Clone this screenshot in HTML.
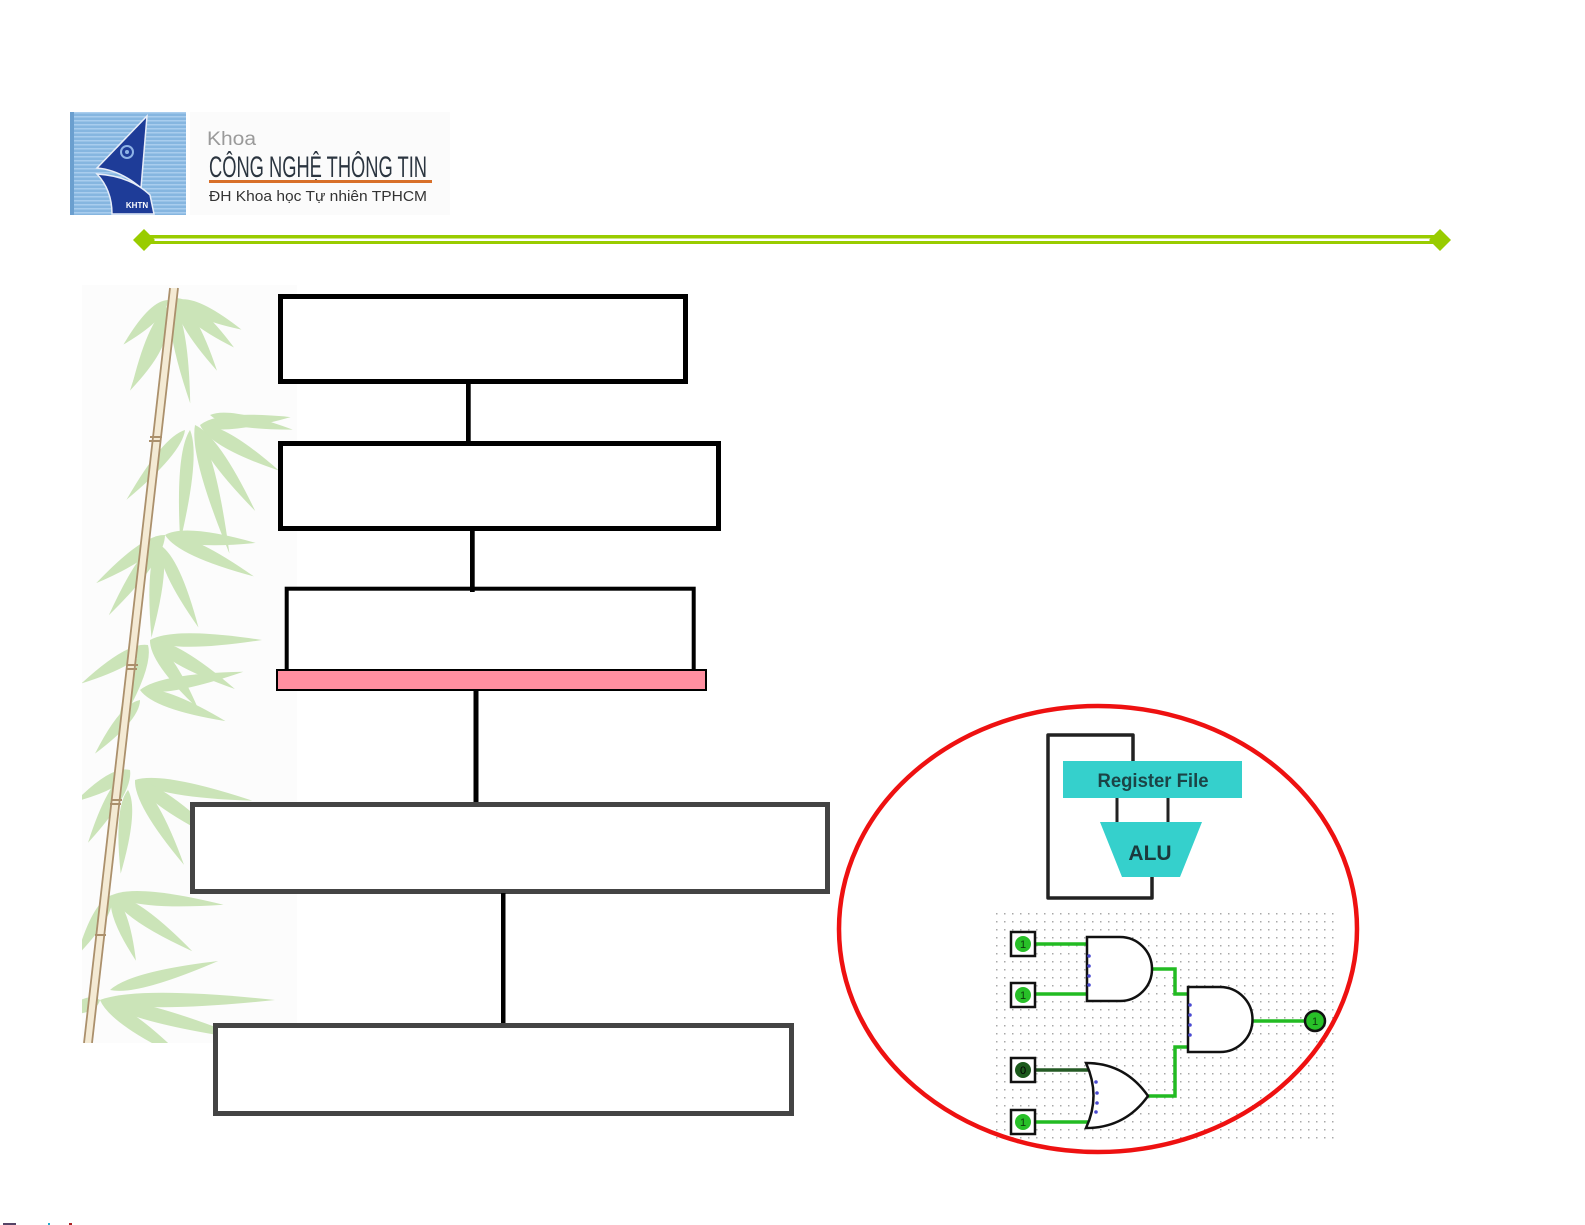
<!DOCTYPE html>
<html>
<head>
<meta charset="utf-8">
<style>
  html,body{margin:0;padding:0;background:#fff;}
  svg{display:block;}
</style>
</head>
<body>
<svg width="1585" height="1225" viewBox="0 0 1585 1225" xmlns="http://www.w3.org/2000/svg">
  <defs>
    <pattern id="stripes" x="0" y="0" width="4" height="4" patternUnits="userSpaceOnUse">
      <rect width="4" height="4" fill="#86b6e0"/>
      <rect width="4" height="1.5" fill="#a9cdee"/>
    </pattern>
    <pattern id="dots" x="993" y="910" width="8" height="8" patternUnits="userSpaceOnUse">
      <rect x="3" y="3" width="1.5" height="1.5" fill="#a8a8a8"/>
    </pattern>
    <clipPath id="bambooClip">
      <rect x="82" y="285" width="215" height="758"/>
    </clipPath>
    <path id="leaf" d="M0,0 Q15,-8 70,0 Q15,8 0,0 Z"/>
  </defs>

  <!-- Logo -->
  <rect x="190" y="112" width="260" height="103" fill="#fbfbfb"/>
  <rect x="70" y="112" width="116" height="103" fill="url(#stripes)"/>
  <rect x="70" y="112" width="4" height="103" fill="#6b9fcf"/>
  <!-- sail -->
  <path d="M147,116 L141,188 Q120,170 97,168 Z" fill="#1e3c98" stroke="#e8eef8" stroke-width="1.5"/>
  <path d="M97,174 Q130,176 150,195 L154,214 L112,214 Q112,190 97,174 Z" fill="#1e3c98" stroke="#e8eef8" stroke-width="1.5"/>
  <circle cx="127" cy="152" r="6" fill="none" stroke="#8fb3e6" stroke-width="2"/>
  <circle cx="127" cy="152" r="2" fill="#8fb3e6"/>
  <text x="137" y="208" font-family="Liberation Sans, sans-serif" font-size="8" font-weight="bold" fill="#ffffff" text-anchor="middle">KHTN</text>

  <text x="207" y="145" font-family="Liberation Sans, sans-serif" font-size="19" fill="#9a9a9a" textLength="49" lengthAdjust="spacingAndGlyphs">Khoa</text>
  <text x="209" y="177" font-family="Liberation Sans, sans-serif" font-size="30" fill="#2b3540" textLength="218" lengthAdjust="spacingAndGlyphs">CÔNG NGHỆ THÔNG TIN</text>
  <rect x="209" y="180" width="223" height="3" fill="#d8702a"/>
  <text x="209" y="201" font-family="Liberation Sans, sans-serif" font-size="15" fill="#333333" textLength="218" lengthAdjust="spacingAndGlyphs">ĐH Khoa học Tự nhiên TPHCM</text>

  <!-- green separator -->
  <rect x="150" y="235" width="1285" height="3.5" fill="#99cc00"/>
  <rect x="150" y="241" width="1285" height="3" fill="#99cc00"/>
  <polygon points="144,229 155,240 144,251 133,240" fill="#99cc00"/>
  <polygon points="1440,229 1451,240 1440,251 1429,240" fill="#99cc00"/>

  <!-- Bamboo -->
  <g clip-path="url(#bambooClip)">
    <rect x="82" y="285" width="215" height="758" fill="#fcfcfc"/>
    <g fill="#c3e0ad" opacity="0.85">
      <!-- cluster 1 -->
      <use href="#leaf" transform="translate(175,298) rotate(40) scale(1.1,1.8)"/>
      <use href="#leaf" transform="translate(175,298) rotate(60) scale(1.2,1.7)"/>
      <use href="#leaf" transform="translate(178,300) rotate(25) scale(1.0,1.6)"/>
      <use href="#leaf" transform="translate(170,305) rotate(115) scale(1.3,1.8)"/>
      <use href="#leaf" transform="translate(168,300) rotate(135) scale(0.9,1.6)"/>
      <use href="#leaf" transform="translate(172,300) rotate(80) scale(1.5,1.6)"/>
      <use href="#leaf" transform="translate(165,330) rotate(120) scale(1.0,1.6)"/>
      <!-- cluster 2 -->
      <use href="#leaf" transform="translate(200,425) rotate(-5) scale(1.3,1.7)"/>
      <use href="#leaf" transform="translate(200,425) rotate(30) scale(1.3,1.8)"/>
      <use href="#leaf" transform="translate(195,425) rotate(55) scale(1.5,1.7)"/>
      <use href="#leaf" transform="translate(195,425) rotate(75) scale(1.9,1.7)"/>
      <use href="#leaf" transform="translate(190,430) rotate(95) scale(1.6,1.6)"/>
      <use href="#leaf" transform="translate(185,430) rotate(130) scale(1.3,1.6)"/>
      <use href="#leaf" transform="translate(210,415) rotate(10) scale(1.2,1.5)"/>
      <!-- cluster 3 -->
      <use href="#leaf" transform="translate(165,535) rotate(125) scale(1.4,1.8)"/>
      <use href="#leaf" transform="translate(165,535) rotate(145) scale(1.2,1.7)"/>
      <use href="#leaf" transform="translate(165,535) rotate(5) scale(1.3,1.7)"/>
      <use href="#leaf" transform="translate(165,535) rotate(25) scale(1.4,1.7)"/>
      <use href="#leaf" transform="translate(160,540) rotate(95) scale(1.4,1.7)"/>
      <use href="#leaf" transform="translate(160,545) rotate(65) scale(1.3,1.6)"/>
      <!-- cluster 4 -->
      <use href="#leaf" transform="translate(150,640) rotate(0) scale(1.6,1.7)"/>
      <use href="#leaf" transform="translate(150,640) rotate(30) scale(1.4,1.8)"/>
      <use href="#leaf" transform="translate(150,640) rotate(55) scale(1.2,1.7)"/>
      <use href="#leaf" transform="translate(148,645) rotate(150) scale(1.1,1.7)"/>
      <use href="#leaf" transform="translate(148,645) rotate(110) scale(1.3,1.7)"/>
      <use href="#leaf" transform="translate(140,690) rotate(-10) scale(1.5,1.6)"/>
      <use href="#leaf" transform="translate(140,690) rotate(20) scale(1.3,1.7)"/>
      <use href="#leaf" transform="translate(140,700) rotate(130) scale(1.0,1.6)"/>
      <!-- cluster 5 -->
      <use href="#leaf" transform="translate(130,770) rotate(120) scale(1.2,1.8)"/>
      <use href="#leaf" transform="translate(130,770) rotate(150) scale(0.9,1.7)"/>
      <use href="#leaf" transform="translate(135,780) rotate(10) scale(1.7,1.7)"/>
      <use href="#leaf" transform="translate(135,780) rotate(35) scale(1.6,1.8)"/>
      <use href="#leaf" transform="translate(135,780) rotate(60) scale(1.4,1.7)"/>
      <use href="#leaf" transform="translate(128,790) rotate(95) scale(1.2,1.6)"/>
      <!-- cluster 6 -->
      <use href="#leaf" transform="translate(112,895) rotate(5) scale(1.6,1.7)"/>
      <use href="#leaf" transform="translate(112,895) rotate(35) scale(1.4,1.8)"/>
      <use href="#leaf" transform="translate(112,895) rotate(120) scale(1.0,1.7)"/>
      <use href="#leaf" transform="translate(112,895) rotate(70) scale(1.0,1.6)"/>
      <!-- cluster 7 -->
      <use href="#leaf" transform="translate(100,1000) rotate(0) scale(2.5,1.8)"/>
      <use href="#leaf" transform="translate(100,1000) rotate(15) scale(2.2,1.8)"/>
      <use href="#leaf" transform="translate(100,1000) rotate(35) scale(1.5,1.8)"/>
      <use href="#leaf" transform="translate(100,1000) rotate(160) scale(0.6,1.7)"/>
      <use href="#leaf" transform="translate(110,990) rotate(-15) scale(1.6,1.6)"/>
    </g>
    <!-- stalk -->
    <polygon points="170,288 178,288 92,1043 84,1043" fill="#f4ead4"/>
    <line x1="170" y1="288" x2="84" y2="1043" stroke="#ab906c" stroke-width="1.8"/>
    <line x1="178" y1="288" x2="92" y2="1043" stroke="#ab906c" stroke-width="1.8"/>
    <g stroke="#ab906c" stroke-width="2">
      <line x1="150" y1="437" x2="162" y2="437"/>
      <line x1="149" y1="441" x2="161" y2="441"/>
      <line x1="127" y1="665" x2="138" y2="665"/>
      <line x1="126" y1="669" x2="137" y2="669"/>
      <line x1="111" y1="800" x2="122" y2="800"/>
      <line x1="110" y1="804" x2="121" y2="804"/>
      <line x1="95" y1="935" x2="106" y2="935"/>
    </g>
  </g>

  <!-- Flow boxes -->
  <g fill="#ffffff" stroke="#000000">
    <rect x="280.5" y="296.5" width="405" height="85" stroke-width="5"/>
    <rect x="280.5" y="443.5" width="438" height="85" stroke-width="5"/>
    <rect x="286.7" y="588.7" width="407" height="90" stroke-width="4"/>
  </g>
  <rect x="466" y="383" width="4.7" height="59" fill="#000"/>
  <rect x="470" y="530" width="4.7" height="62" fill="#000"/>
  <rect x="277" y="670" width="429" height="20" fill="#ff8fa0" stroke="#000" stroke-width="2"/>
  <rect x="473.5" y="690" width="5" height="114" fill="#000"/>

  <rect x="192.5" y="804.5" width="635" height="87" fill="#fff" stroke="#444" stroke-width="5"/>
  <rect x="501" y="893" width="4.5" height="132" fill="#000"/>
  <rect x="215.5" y="1025.5" width="576" height="88" fill="#fff" stroke="#444" stroke-width="5"/>

  <!-- Circuit illustration -->
  <rect x="993" y="910" width="345" height="235" fill="url(#dots)"/>

  <!-- Register/ALU loop -->
  <path d="M1133,761 L1133,735 L1048,735 L1048,898 L1152,898 L1152,877" fill="none" stroke="#222" stroke-width="3.5" stroke-linejoin="round"/>
  <line x1="1117" y1="798" x2="1117" y2="823" stroke="#222" stroke-width="3"/>
  <line x1="1168" y1="798" x2="1168" y2="823" stroke="#222" stroke-width="3"/>
  <rect x="1063" y="761" width="179" height="37" fill="#35d0cc"/>
  <text x="1153" y="787" font-family="Liberation Sans, sans-serif" font-size="19" font-weight="bold" fill="#1b4446" text-anchor="middle" textLength="111" lengthAdjust="spacingAndGlyphs">Register File</text>
  <polygon points="1100,822 1202,822 1180,877 1122,877" fill="#35d0cc"/>
  <text x="1150" y="860" font-family="Liberation Sans, sans-serif" font-size="21" font-weight="bold" fill="#1b3a3d" text-anchor="middle">ALU</text>

  <!-- wires -->
  <g fill="none" stroke="#22bb22" stroke-width="3.5">
    <line x1="1035" y1="944" x2="1088" y2="944"/>
    <line x1="1035" y1="994" x2="1088" y2="994"/>
    <polyline points="1150,969 1175,969 1175,994 1189,994"/>
    <polyline points="1189,1047 1175,1047 1175,1096 1148,1096"/>
    <line x1="1252" y1="1021" x2="1306" y2="1021"/>
    <line x1="1035" y1="1122" x2="1092" y2="1122"/>
  </g>
  <line x1="1035" y1="1070" x2="1092" y2="1070" stroke="#245a24" stroke-width="3.5"/>

  <!-- gates -->
  <g fill="#ffffff" stroke="#111" stroke-width="2.5">
    <path d="M1087,937 L1120,937 A32,32 0 0 1 1120,1001 L1087,1001 Z"/>
    <path d="M1188,987 L1220,987 A32.5,32.5 0 0 1 1220,1052 L1188,1052 Z"/>
    <path d="M1086,1063 Q1125,1063 1148,1096 Q1125,1128 1086,1128 Q1101,1096 1086,1063 Z"/>
  </g>
  <g fill="#4a4ad0">
    <circle cx="1089" cy="956" r="1.8"/><circle cx="1089" cy="966" r="1.8"/><circle cx="1089" cy="976" r="1.8"/><circle cx="1089" cy="985" r="1.8"/>
    <circle cx="1190" cy="1005" r="1.8"/><circle cx="1190" cy="1015" r="1.8"/><circle cx="1190" cy="1025" r="1.8"/><circle cx="1190" cy="1035" r="1.8"/>
    <circle cx="1096" cy="1082" r="1.8"/><circle cx="1097" cy="1093" r="1.8"/><circle cx="1097" cy="1103" r="1.8"/><circle cx="1096" cy="1112" r="1.8"/>
  </g>

  <!-- inputs -->
  <g stroke="#111" stroke-width="2.5" fill="#fff">
    <rect x="1011" y="932" width="24" height="24"/>
    <rect x="1011" y="983" width="24" height="24"/>
    <rect x="1011" y="1058" width="24" height="24"/>
    <rect x="1011" y="1110" width="24" height="24"/>
  </g>
  <circle cx="1023" cy="944" r="8" fill="#28c028"/>
  <circle cx="1023" cy="995" r="8" fill="#28c028"/>
  <circle cx="1023" cy="1070" r="8" fill="#1c5a1c"/>
  <circle cx="1023" cy="1122" r="8" fill="#28c028"/>
  <g font-family="Liberation Sans, sans-serif" font-size="11" text-anchor="middle" fill="#0c3a0c">
    <text x="1023" y="948">1</text>
    <text x="1023" y="999">1</text>
    <text x="1023" y="1074" fill="#000">0</text>
    <text x="1023" y="1126">1</text>
  </g>
  <circle cx="1315" cy="1021" r="10" fill="#28c028" stroke="#111" stroke-width="2.5"/>
  <text x="1315" y="1025" font-family="Liberation Sans, sans-serif" font-size="11" text-anchor="middle" fill="#0c3a0c">1</text>

  <!-- red ellipse -->
  <ellipse cx="1098" cy="929" rx="259" ry="223" fill="none" stroke="#ee1111" stroke-width="4.5"/>

  <!-- tiny marks bottom-left -->
  <rect x="3" y="1223" width="13" height="2" fill="#554466"/>
  <rect x="48" y="1223" width="2" height="2" fill="#22aacc"/>
  <rect x="69" y="1223" width="3" height="2" fill="#aa2222"/>
</svg>
</body>
</html>
